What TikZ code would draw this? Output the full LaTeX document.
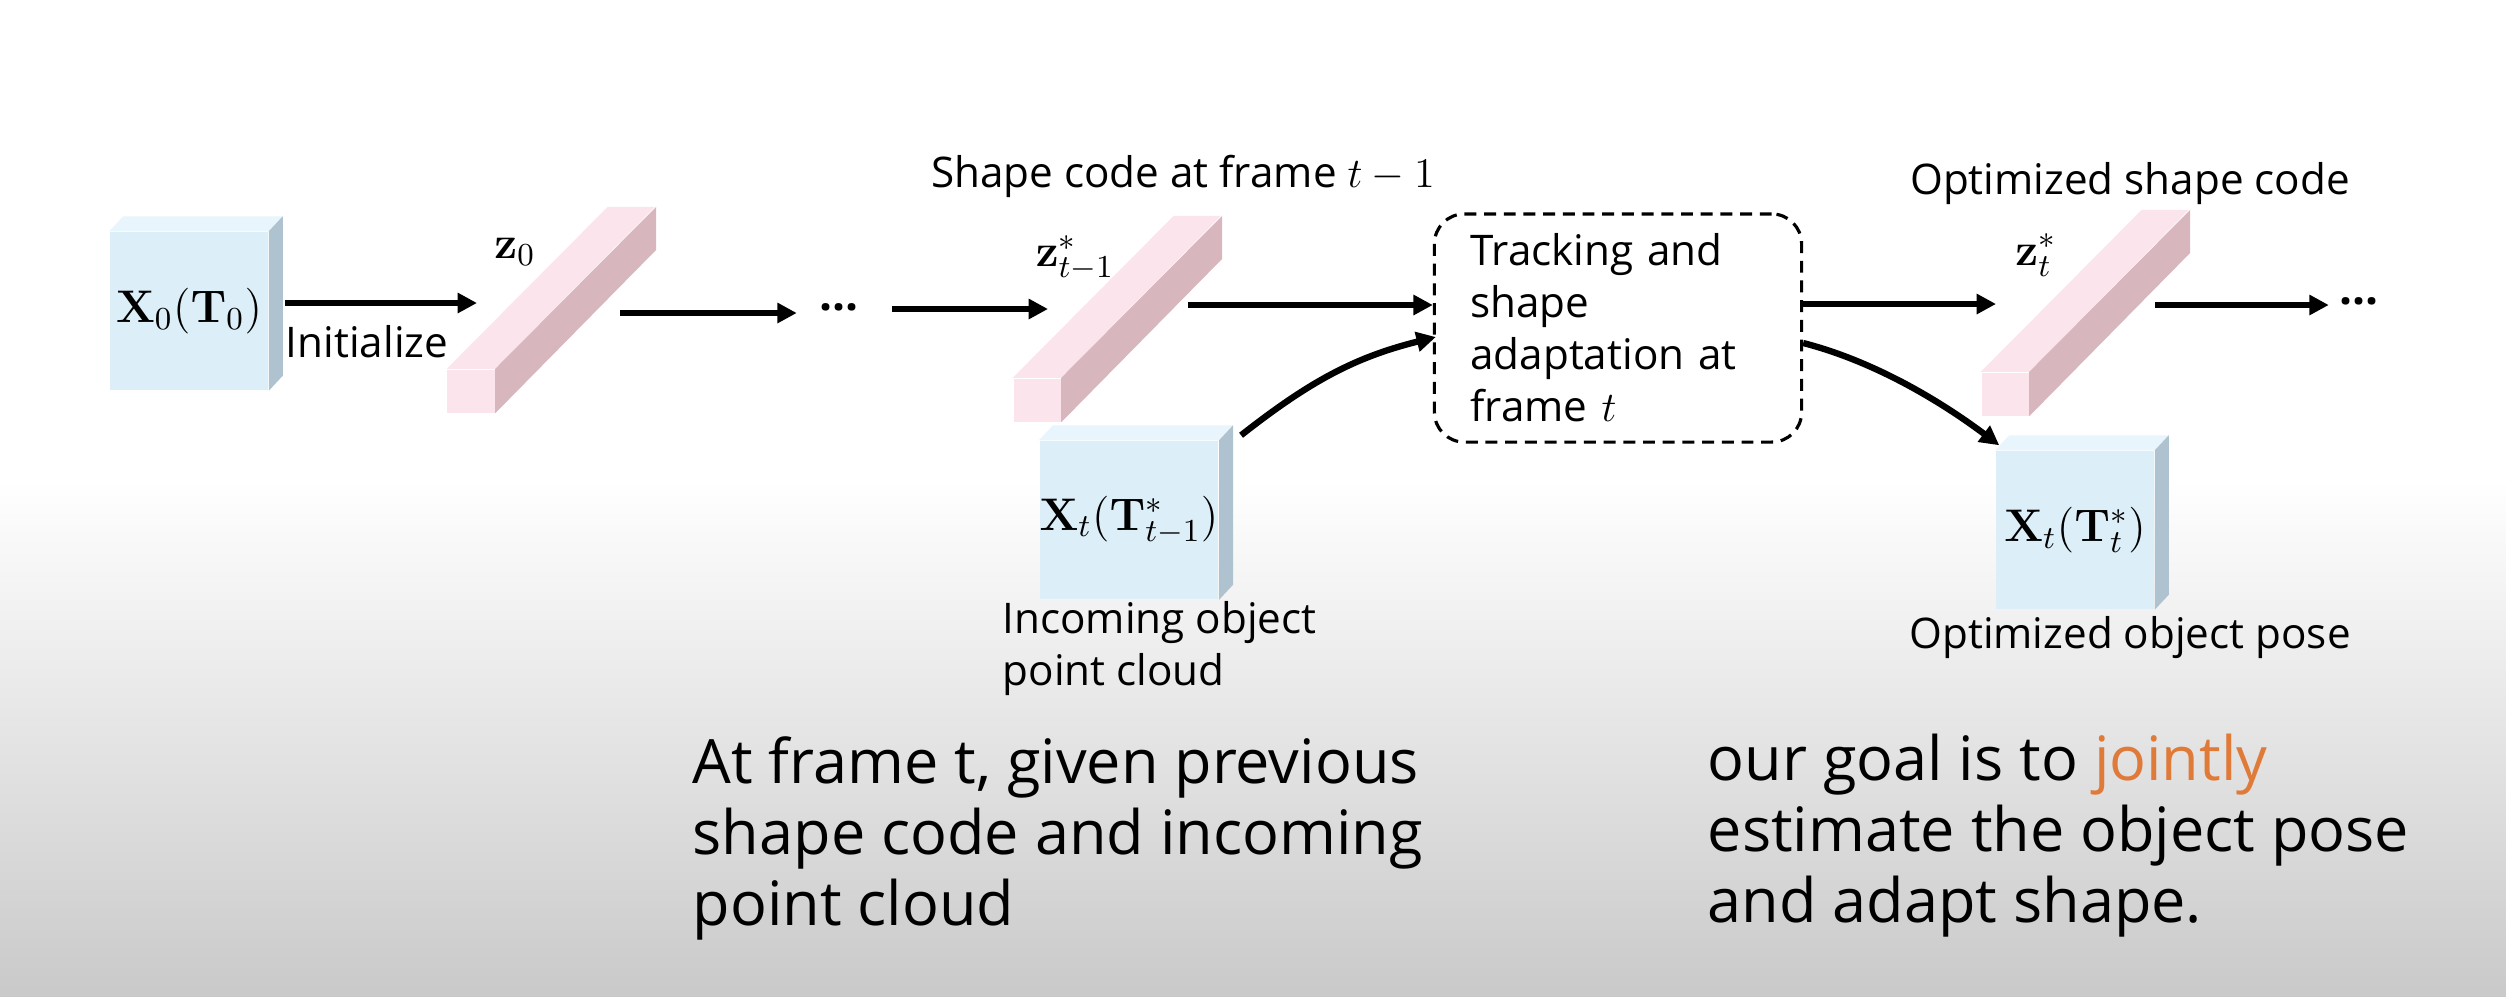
\RequirePackage{fix-cm}
\documentclass[tikz,border=0pt]{standalone}
\usepackage{amsmath}
\usepackage[no-math]{fontspec}
\setmainfont{Open Sans}
\usetikzlibrary{arrows.meta}

\begin{document}
\begin{tikzpicture}[x=0.01cm, y=-0.01cm,
    flow/.style={line width=1.8pt, -{Triangle[length=5.5pt,width=5.5pt]}},
    note/.style={font=\fontsize{12}{14.8}\selectfont, inner sep=0pt},
    codelbl/.style={font=\fontsize{13}{15}\selectfont, inner sep=0pt},
    dots/.style={font=\fontsize{13}{15}\selectfont\bfseries, inner sep=0pt},
    bigtext/.style={font=\fontsize{17.4}{20.2}\selectfont, align=left, anchor=north west, inner sep=0pt},
    cube/.style={fill=cubeFront, minimum width=1.58cm, minimum height=1.58cm, inner sep=0pt, font=\fontsize{13}{15}\selectfont},
    barfront/.style={fill=barLight, minimum width=0.47cm, minimum height=0.43cm, inner sep=0pt}]
    \def\dx{14}
    \def\dy{-15}
    \definecolor{cubeFront}{HTML}{DCEEF8}
    \definecolor{cubeTop}{HTML}{E8F5FC}
    \definecolor{cubeSide}{HTML}{AEC3CF}
    \definecolor{barLight}{HTML}{FCE4EC}
    \definecolor{barDark}{HTML}{D8B6BE}
    \definecolor{goalOrange}{HTML}{E07A38}

    % Draw background
    \fill[white] (0,0) rectangle (2506,996);
    \shade[top color=white, bottom color=gray!42] (0,480) rectangle (2506,996);
    \useasboundingbox (0,0) rectangle (2506,996);

    % Point cloud blocks
    \node[cube] (b0) at (189,311) {$\mathbf{X}_0(\mathbf{T}_0)$};
    \node[cube] (b1) at (1129,520) {$\mathbf{X}_t(\mathbf{T}^*_{t-1})$};
    \node[cube] (b2) at (2075,530) {$\mathbf{X}_t(\mathbf{T}^*_t)$};
    \foreach \blk in {b0,b1,b2} {
        \fill[cubeTop] (\blk.north west) -- ++(\dx,\dy) -- ([shift={(\dx,\dy)}]\blk.north east) -- (\blk.north east) -- cycle;
        \fill[cubeSide] (\blk.north east) -- ++(\dx,\dy) -- ([shift={(\dx,\dy)}]\blk.south east) -- (\blk.south east) -- cycle;
    }

    % Shape code bars
    \node[barfront] (z0) at (471,391) {};
    \node[barfront] (z1) at (1037,400) {};
    \node[barfront] (z2) at (2005,394) {};
    \foreach \zb in {z0,z1,z2} {
        \fill[barLight] (\zb.north west) -- ++(161,-162) -- ++(47,0) -- (\zb.north east) -- cycle;
        \fill[barDark] (\zb.north east) -- ++(161,-162) -- ++(0,43) -- (\zb.south east) -- cycle;
    }
    \node[codelbl] (z0lbl) at (515,252) {$\mathbf{z}_0$};
    \node[codelbl] (z1lbl) at (1075,258) {$\mathbf{z}^*_{t-1}$};
    \node[codelbl] (z2lbl) at (2036,255) {$\mathbf{z}^*_t$};

    % Tracking box
    \node[draw, dashed, line width=0.9pt, dash pattern=on 3.4pt off 2.2pt, rounded corners=8.5pt,
          minimum width=3.67cm, minimum height=2.28cm, text width=2.95cm, align=left,
          font=\fontsize{12}{14.8}\selectfont] (track) at (1618,328)
          {Tracking and\\shape\\adaptation at\\frame $t$};

    % Labels
    \node[note, anchor=base] (init) at (367,357) {Initialize};
    \node[note, anchor=base] (shapePrev) at (1183,187) {Shape code at frame $t-1$};
    \node[note, anchor=base] (shapeOpt) at (2130,194) {Optimized shape code};
    \node[note, anchor=base] (poseOpt) at (2130,648) {Optimized object pose};
    \node[note, align=left, anchor=north west] (incoming) at (1002,601) {Incoming object\\point cloud};
    \node[dots] (dotsA) at (839,307) {...};
    \node[dots] (dotsB) at (2359,301) {...};

    % Arrows
    \coordinate (z0in) at (477,303);
    \coordinate (z0out) at (620,313);
    \coordinate (z1in) at (1048,309);
    \coordinate (z1out) at (1188,305);
    \coordinate (z2in) at (1996,304);
    \coordinate (z2out) at (2155,305);
    \draw[flow] ([shift={(16,-8)}]b0.east) -- (z0in);
    \draw[flow] (z0out) -- ([shift={(-22,6)}]dotsA.west);
    \draw[flow] ([shift={(33,2)}]dotsA.east) -- (z1in);
    \draw[flow] (z1out) -- ([shift={(0,-23)}]track.west);
    \draw[flow] ([shift={(22,-5)}]b1.north east) .. controls +(70,-55) and +(-80,20) .. ([shift={(3,9)}]track.west);
    \draw[flow] ([shift={(0,-24)}]track.east) -- (z2in);
    \draw[flow] ([shift={(0,15)}]track.east) .. controls +(70,18) and +(-60,-45) .. ([shift={(4,-5)}]b2.north west);
    \draw[flow] (z2out) -- ([shift={(-10,4)}]dotsB.west);

    % Bottom text
    \node[bigtext] (given) at (692,736) {At frame t, given previous\\shape code and incoming\\point cloud};
    \node[bigtext] (goal) at (1707,733) {our goal is to \textcolor{goalOrange}{jointly}\\estimate the object pose\\and adapt shape.};

\end{tikzpicture}
\end{document}
